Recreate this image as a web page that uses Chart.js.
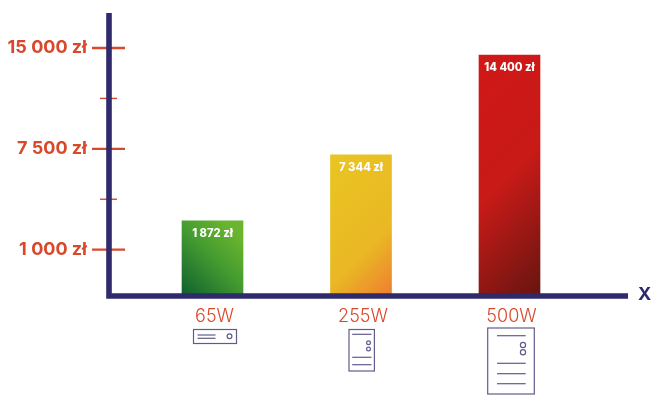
<!DOCTYPE html>
<html>
<head>
<meta charset="utf-8">
<style>
  html, body { margin: 0; padding: 0; background: #fff; }
  canvas { display: block; }
</style>
<script src="https://cdn.jsdelivr.net/npm/chart.js@4"></script>
</head>
<body>
<canvas id="chart" width="661" height="406"></canvas>
<script>
// the y axis of the picture is not to scale, so values are read as tick steps
const categories = ['65W', '255W', '500W'];
const barSteps = [1.57, 2.88, 4.86];
const barLabels = ['1 872 zł', '7 344 zł', '14 400 zł'];
const tickSteps = [1, 2, 3, 4, 5];
const tickLabels = ['1 000 zł', '', '7 500 zł', '', '15 000 zł'];

const NAVY = '#2e2a6c';
const RED = '#d9482b';
const ICON = '#5f5c8c';
const BAR_WIDTH = 61;
const gradients = [
  [[0, '#0f5f2e'], [0.5, '#439a30'], [0.85, '#69b42e'], [1, '#6cb52e']],
  [[0, '#e9c522'], [0.65, '#e9b824'], [1, '#ef7e30']],
  [[0, '#d01818'], [0.5, '#c81a17'], [1, '#651510']]
];

function barFill(context) {
  const chart = context.chart;
  const i = context.dataIndex;
  const x = chart.scales.x, y = chart.scales.y;
  if (!x || !y || i === undefined) return '#888';
  const cx = x.getPixelForValue(i + 1);
  const t = y.getPixelForValue(barSteps[i]), b = y.bottom;
  // scales are not laid out yet on the first pass
  if (!isFinite(cx) || !isFinite(t) || !isFinite(b)) return '#888';
  // 45 degree gradient, green runs up to the right, the others down to the right
  const cy = (t + b) / 2;
  const d = (BAR_WIDTH + b - t) / 4;
  const g = i === 0
    ? chart.ctx.createLinearGradient(cx - d, cy + d, cx + d, cy - d)
    : chart.ctx.createLinearGradient(cx - d, cy - d, cx + d, cy + d);
  gradients[i].forEach(s => g.addColorStop(s[0], s[1]));
  return g;
}

function hLine(ctx, x1, x2, y) {
  ctx.beginPath();
  ctx.moveTo(x1, y);
  ctx.lineTo(x2, y);
  ctx.stroke();
}

function circle(ctx, x, y, r) {
  ctx.beginPath();
  ctx.arc(x, y, r, 0, Math.PI * 2);
  ctx.stroke();
}

// small computer icons under the x labels, offsets from the tick and the axis
function drawIcon(ctx, i, cx, base) {
  ctx.strokeStyle = ICON;
  ctx.lineWidth = 1.2;
  if (i === 0) {
    ctx.strokeRect(cx - 19, base + 33.5, 43, 14);
    hLine(ctx, cx - 15, cx + 3, base + 39);
    hLine(ctx, cx - 15, cx + 3, base + 42.3);
    circle(ctx, cx + 17, base + 40.3, 2.4);
  } else if (i === 1) {
    ctx.strokeRect(cx - 12, base + 33.5, 25.4, 41.5);
    hLine(ctx, cx - 8.8, cx + 10.5, base + 38.3);
    circle(ctx, cx + 7.5, base + 46.7, 1.9);
    circle(ctx, cx + 7.5, base + 53, 1.9);
    hLine(ctx, cx - 8.8, cx + 10.5, base + 61.3);
    hLine(ctx, cx - 8.8, cx + 10.5, base + 68.7);
  } else {
    ctx.strokeRect(cx - 21.8, base + 32, 46.6, 66);
    hLine(ctx, cx - 12.5, cx + 16.2, base + 39.7);
    circle(ctx, cx + 13.5, base + 49, 2.6);
    circle(ctx, cx + 13.5, base + 56.3, 2.6);
    hLine(ctx, cx - 12.5, cx + 16.2, base + 67.3);
    hLine(ctx, cx - 12.5, cx + 16.2, base + 77.7);
    hLine(ctx, cx - 12.5, cx + 16.2, base + 87.7);
  }
}

const decorations = {
  id: 'decorations',
  afterDatasetsDraw(chart) {
    const ctx = chart.ctx;
    const x = chart.scales.x, y = chart.scales.y;
    const left = chart.chartArea.left, right = chart.chartArea.right;
    const top = chart.chartArea.top, bottom = chart.chartArea.bottom;
    ctx.save();

    // tick marks cross the y axis, the unlabelled ones are shorter
    ctx.strokeStyle = RED;
    tickSteps.forEach((step, i) => {
      const py = y.getPixelForValue(step);
      if (tickLabels[i]) {
        ctx.lineWidth = 2.4;
        hLine(ctx, left - 17, left + 16, py);
      } else {
        ctx.lineWidth = 1.4;
        hLine(ctx, left - 9, left + 8, py);
      }
    });

    // axes
    ctx.strokeStyle = NAVY;
    ctx.lineWidth = 5.6;
    ctx.beginPath();
    ctx.moveTo(left, top);
    ctx.lineTo(left, bottom);
    ctx.lineTo(right, bottom);
    ctx.lineJoin = 'miter';
    ctx.stroke();

    ctx.fillStyle = NAVY;
    ctx.font = '700 18px Inter';
    ctx.textAlign = 'left';
    ctx.textBaseline = 'middle';
    ctx.fillText('X', right + 10, bottom - 1);

    // values inside the bars
    ctx.fillStyle = '#fff';
    ctx.font = '800 11.2px Inter';
    ctx.textAlign = 'center';
    const bars = chart.getDatasetMeta(0).data;
    bars.forEach((bar, i) => {
      ctx.fillText(barLabels[i], bar.x, bar.y + 13);
    });

    categories.forEach((c, i) => {
      drawIcon(ctx, i, x.getPixelForValue(i + 1), bottom);
    });
    ctx.restore();
  }
};

new Chart(document.getElementById('chart'), {
  type: 'bar',
  data: {
    datasets: [{
      data: barSteps.map((v, i) => ({ x: i + 1, y: v })),
      backgroundColor: barFill,
      barThickness: BAR_WIDTH,
      borderWidth: 0
    }]
  },
  options: {
    responsive: false,
    animation: false,
    devicePixelRatio: 1,
    layout: { padding: { top: 13, right: 33 } },
    plugins: { legend: { display: false }, tooltip: { enabled: false } },
    scales: {
      x: {
        type: 'linear',
        offset: false,
        min: 0.303,
        max: 3.798,
        afterBuildTicks: s => { s.ticks = categories.map((c, i) => ({ value: i + 1 })); },
        afterFit: s => { s.height = 110; s.paddingLeft = 0; s.paddingRight = 0; },
        grid: { display: false },
        border: { display: false },
        ticks: {
          autoSkip: false,
          maxRotation: 0,
          padding: 2,
          labelOffset: 2,
          color: RED,
          font: { family: 'Inter', size: 18, weight: '300' },
          callback: v => categories[v - 1]
        }
      },
      y: {
        min: 0.081,
        max: 5.694,
        afterBuildTicks: s => { s.ticks = tickSteps.map(v => ({ value: v })); },
        afterFit: s => { s.width = 109; s.paddingTop = 0; s.paddingBottom = 0; },
        grid: { display: false },
        border: { display: false },
        ticks: {
          autoSkip: false,
          padding: 14,
          color: RED,
          font: { family: 'Inter', size: 18, weight: '700' },
          callback: v => tickLabels[v - 1]
        }
      }
    }
  },
  plugins: [decorations]
});
</script>
</body>
</html>
